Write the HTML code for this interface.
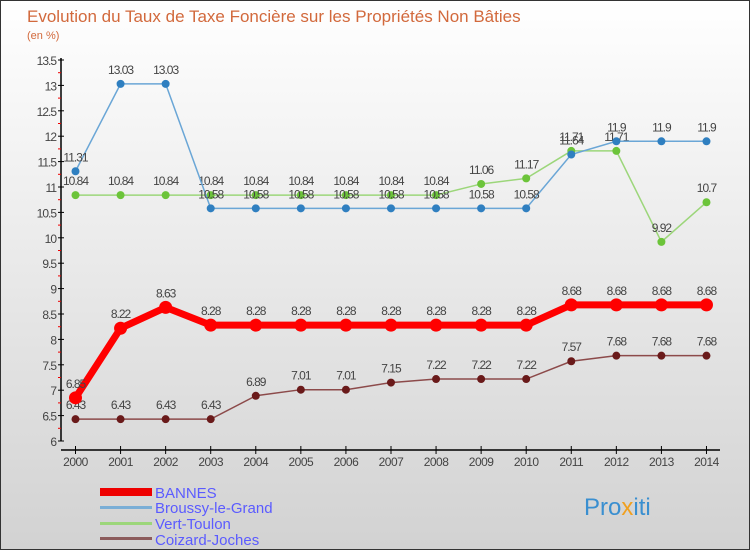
<!DOCTYPE html>
<html><head><meta charset="utf-8"><style>
body{margin:0}
#c{width:750px;height:550px;position:relative;overflow:hidden;font-family:"Liberation Sans",sans-serif}
</style></head><body>
<div id="c">
<svg id="s" width="750" height="550" xmlns="http://www.w3.org/2000/svg">
<defs><linearGradient id="bg" x1="0" y1="0" x2="0" y2="1"><stop offset="0" stop-color="#ffffff"/><stop offset="1" stop-color="#d2d2d2"/></linearGradient></defs>
<rect x="0.5" y="0.5" width="749" height="549" fill="url(#bg)" stroke="#333"/>
<text x="27" y="22" font-size="17" fill="#d2693c">Evolution du Taux de Taxe Foncière sur les Propriétés Non Bâties</text>
<text x="27" y="39" font-size="11" fill="#d2693c">(en %)</text>
<g id="axes"></g><g id="series"></g>
<g>
<rect x="100" y="488" width="52" height="8" fill="#e00"/>
<text x="155" y="498" font-size="15" fill="#5b5bff">BANNES</text>
<rect x="100" y="506" width="52" height="3" fill="#7aaed6"/>
<text x="155" y="513" font-size="15" fill="#5b5bff">Broussy-le-Grand</text>
<rect x="100" y="522" width="52" height="3" fill="#9cd67a"/>
<text x="155" y="529" font-size="15" fill="#5b5bff">Vert-Toulon</text>
<rect x="100" y="537" width="52" height="3" fill="#8c5c5c"/>
<text x="155" y="545" font-size="15" fill="#5b5bff">Coizard-Joches</text>
</g>
<text x="584" y="515" font-size="24" fill="#3a8fd0">Pro<tspan fill="#f0a020">x</tspan>iti</text>
</svg>
</div>
<script>
const years=[2000,2001,2002,2003,2004,2005,2006,2007,2008,2009,2010,2011,2012,2013,2014];
const yTicks=[6,6.5,7,7.5,8,8.5,9,9.5,10,10.5,11,11.5,12,12.5,13,13.5];
const bannes=[6.85,8.22,8.63,8.28,8.28,8.28,8.28,8.28,8.28,8.28,8.28,8.68,8.68,8.68,8.68];
const broussy=[11.31,13.03,13.03,10.58,10.58,10.58,10.58,10.58,10.58,10.58,10.58,11.64,11.9,11.9,11.9];
const vert=[10.84,10.84,10.84,10.84,10.84,10.84,10.84,10.84,10.84,11.06,11.17,11.71,11.71,9.92,10.7];
const coizard=[6.43,6.43,6.43,6.43,6.89,7.01,7.01,7.15,7.22,7.22,7.22,7.57,7.68,7.68,7.68];
const NS="http://www.w3.org/2000/svg";
const xS=i=>75.5+i*45.07;
const yS=v=>441-(v-6)*50.8;
function mk(t,a,p){const e=document.createElementNS(NS,t);for(const k in a)e.setAttribute(k,a[k]);p.appendChild(e);return e;}
const ax=document.getElementById('axes');
mk('line',{x1:61,y1:58,x2:61,y2:441,stroke:'#000','stroke-width':1.5},ax);
mk('line',{x1:61,y1:450,x2:720,y2:450,stroke:'#000','stroke-width':1.5},ax);
yTicks.forEach(v=>{const y=yS(v);
 mk('line',{x1:58,y1:y,x2:64,y2:y,stroke:'#000'},ax);
 mk('line',{x1:58,y1:y+12.7,x2:61,y2:y+12.7,stroke:v>6?'#e00':'none'},ax);
 const t=mk('text',{x:56,y:y+5,'font-size':12,fill:'#444','text-anchor':'end','letter-spacing':'-1'},ax);t.textContent=v;
 
 });
years.forEach((yr,i)=>{const x=xS(i);
 mk('line',{x1:x,y1:446,x2:x,y2:454,stroke:'#000'},ax);
 const t=mk('text',{x:x,y:466,'font-size':12,fill:'#444','text-anchor':'middle','letter-spacing':'-0.5'},ax);t.textContent=yr;
 
 });
const sg=document.getElementById('series');
function series(d,name,col,w,r,dot){
 const g=mk('g',{},sg);
 
 
 mk('polyline',{points:d.map((v,i)=>xS(i)+','+yS(v)).join(' '),fill:'none',stroke:col,'stroke-width':w},g);
 d.forEach((v,i)=>{mk('circle',{cx:xS(i),cy:yS(v),r:r,fill:dot},g);
  const t=mk('text',{x:xS(i),y:yS(v)-10,'font-size':12,fill:'#444','text-anchor':'middle','letter-spacing':'-1'},g);t.textContent=v;
  
  });
}
series(coizard,'coizard-series','#8c4a4a',1.5,4,'#6a1a1a');
series(vert,'vert-series','#9cd67a',1.5,4,'#6cc43a');
series(broussy,'broussy-series','#6aa6d6',1.5,4,'#2f7fc0');
series(bannes,'bannes-series','#f00',7,6.5,'#f00');
</script>
</body></html>
